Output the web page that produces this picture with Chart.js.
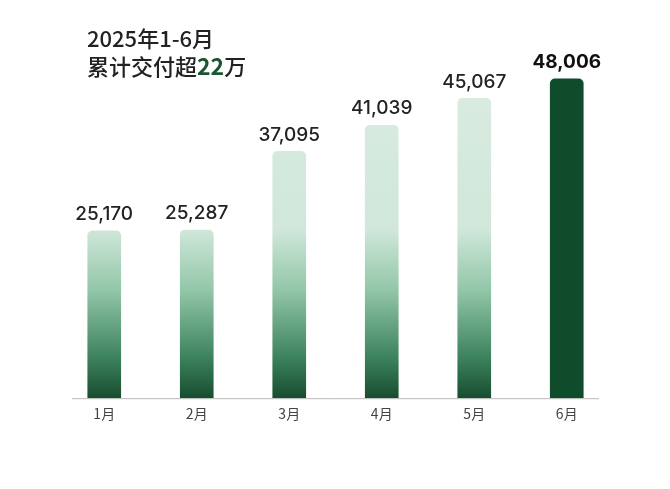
<!DOCTYPE html>
<html>
<head>
<meta charset="utf-8">
<script src="https://cdn.jsdelivr.net/npm/chart.js@4"></script>
<style>
  body { margin: 0; background: #fff; }
  #wrap { position: relative; width: 670px; height: 489px; }
  #title {
    position: absolute; left: 87px; top: 23px;
    font-family: "Noto Sans CJK SC", sans-serif; font-size: 22px; line-height: 28px;
    color: #222; font-weight: 500;
  }
  #title b { color: #1b5534; font-weight: 700; font-size: 23px; }
</style>
</head>
<body>
<div id="wrap">
  <canvas id="myChart" width="670" height="489"></canvas>
  <div id="title">2025年1-6月<br>累计交付超<b>22</b>万</div>
</div>
<script>
var months = ["1月", "2月", "3月", "4月", "5月", "6月"];
var deliveries = [25170, 25287, 37095, 41039, 45067, 48006];

function lightBar(ctx) {
    var area = ctx.chart.chartArea;
    if (!area) return "#cfe6d8";
    var g = ctx.chart.ctx.createLinearGradient(0, area.bottom, 0, area.top);
    g.addColorStop(0, "#174d2e");
    g.addColorStop(0.12, "#3f8560");
    g.addColorStop(0.3, "#92c6a8");
    g.addColorStop(0.47, "#d0e7da");
    g.addColorStop(1, "#dcede3");
    return g;
}

// value labels above bars + shortened base line
var labelPlugin = {
    id: "labels",
    afterDatasetsDraw: function (chart) {
        var c = chart.ctx;
        var meta = chart.getDatasetMeta(0);
        c.save();
        c.textAlign = "center";
        c.textBaseline = "bottom";
        meta.data.forEach(function (bar, i) {
            var last = i == deliveries.length - 1;
            c.font = (last ? "700 " : "500 ") + "19px Inter, sans-serif";
            c.fillStyle = last ? "#111" : "#222";
            c.fillText(deliveries[i].toLocaleString("en-US"), bar.x, bar.y - 7);
        });
        c.strokeStyle = "#b8b8b8";
        c.lineWidth = 1;
        c.beginPath();
        c.moveTo(72, chart.chartArea.bottom + 0.5);
        c.lineTo(599, chart.chartArea.bottom + 0.5);
        c.stroke();
        c.restore();
    }
};

const ctx = document.getElementById("myChart");
new Chart(ctx, {
    type: "bar",
    data: {
        labels: months,
        datasets: [{
            data: deliveries,
            backgroundColor: function (c) {
                return c.dataIndex == deliveries.length - 1 ? "#0f4c2c" : lightBar(c);
            },
            borderRadius: { topLeft: 5, topRight: 5 },
            borderSkipped: "bottom",
            barThickness: 33
        }]
    },
    options: {
        responsive: false,
        animation: false,
        layout: { padding: { left: 58, right: 57, top: 39, bottom: 60 } },
        plugins: { legend: { display: false }, tooltip: { enabled: false } },
        scales: {
            y: { display: false, min: 0, max: 54000 },
            x: {
                grid: { display: false, drawTicks: false },
                border: { display: false },
                ticks: {
                    padding: 7,
                    color: "#444",
                    font: { family: "'Noto Sans CJK SC', sans-serif", size: 14 }
                }
            }
        }
    },
    plugins: [labelPlugin]
});
</script>
</body>
</html>
